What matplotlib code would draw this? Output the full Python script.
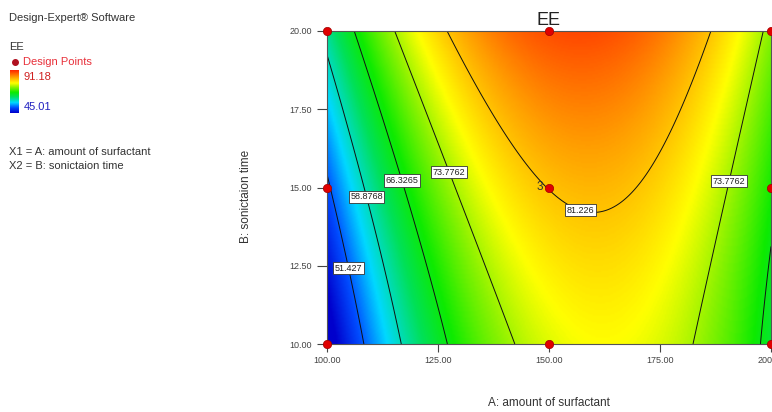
import matplotlib as mpl
from matplotlib import pyplot as plt
from matplotlib.colors import LinearSegmentedColormap
import numpy as np

mpl.use('Agg')
plt.rcParams['font.family'] = ['Liberation Sans', 'DejaVu Sans']

# quadratic model in coded units
# EE = b0 + bA*a + bB*b + bAB*a*b + bAA*a^2 + bBB*b^2
b0, bA, bB, bAB, bAA, bBB = 81.32, 8.48, 6.33, -2.49, -22.17, 1.0
ee_min, ee_max = 45.01, 91.18

levels = [51.427, 58.8768, 66.3265, 73.7762, 81.226]
level_text = ['51.427', '58.8768', '66.3265', '73.7762', '81.226']
label_pos = [(104.0, 12.4), (108.8, 14.7), (116.4, 15.2), (127.7, 15.5),
             (157.4, 14.4), (190.5, 15.2)]

pts_A = [100, 100, 100, 150, 150, 150, 200, 200, 200]
pts_B = [10, 15, 20, 10, 15, 20, 10, 15, 20]

A = np.linspace(100, 200, 301)
B = np.linspace(10, 20, 201)
AA, BB = np.meshgrid(A, B)
a = (AA - 150) / 50
b = (BB - 15) / 5
Z = b0 + bA*a + bB*b + bAB*a*b + bAA*a**2 + bBB*b**2

cmap = LinearSegmentedColormap.from_list('de', [
    (0.00, (0.0, 0.0, 0.80)),
    (0.12, (0.0, 0.30, 1.0)),
    (0.24, (0.0, 0.85, 1.0)),
    (0.38, (0.0, 0.88, 0.35)),
    (0.48, (0.05, 0.92, 0.0)),
    (0.60, (0.55, 0.95, 0.0)),
    (0.70, (1.0, 1.0, 0.0)),
    (0.84, (1.0, 0.62, 0.0)),
    (1.00, (1.0, 0.15, 0.0))])

fig = plt.figure(figsize=(7.72, 4.12), dpi=100)
ax = fig.add_axes([327/772, 1-344/412, 444/772, 313/412])

ax.imshow(Z, extent=[100, 200, 10, 20], origin='lower', aspect='auto',
          cmap=cmap, vmin=ee_min, vmax=ee_max, interpolation='bilinear')
cs = ax.contour(AA, BB, Z, levels=levels, colors='#111111', linewidths=0.7)
txts = ax.clabel(cs, fmt=dict(zip(levels, level_text)), manual=label_pos,
                 inline=False, fontsize=6.5)
for t in txts:
    t.set_rotation(0)
    t.set_color('#222222')
    t.set_bbox(dict(facecolor='white', edgecolor='#333333', lw=0.6, pad=1.2))

ax.plot(pts_A, pts_B, 'o', ms=6, color='#e00000', mec='#a00000', mew=0.5,
        clip_on=False, zorder=5)
ax.annotate('3', (150, 15), xytext=(-4, 0), textcoords='offset points',
            ha='right', va='center', fontsize=8.5, color='#333333')

ax.set_xlim(100, 200)
ax.set_ylim(10, 20)
ax.set_xticks([100, 125, 150, 175, 200])
ax.set_yticks([10, 12.5, 15, 17.5, 20])
ax.xaxis.set_major_formatter(mpl.ticker.FormatStrFormatter('%.2f'))
ax.yaxis.set_major_formatter(mpl.ticker.FormatStrFormatter('%.2f'))
ax.tick_params(axis='y', direction='out', length=7.5, pad=3.5, labelsize=6.5,
               colors='#444444')
ax.tick_params(axis='x', direction='out', length=5.5, pad=3, labelsize=6.5,
               colors='#444444')
for s in ax.spines.values():
    s.set_color('#555555')
    s.set_linewidth(0.8)

ax.set_title('EE', fontsize=13, color='#222222', pad=4)
ax.set_xlabel('A: amount of surfactant', fontsize=8.5, color='#333333')
ax.set_ylabel('B: sonictaion time', fontsize=8.5, color='#333333')
ax.xaxis.set_label_coords(0.5, -0.17)
ax.yaxis.set_label_coords(-0.168, 0.47)

# left side legend block
def px(x, y):
    return x/772, 1 - y/412

fig.text(*px(9, 18), 'Design-Expert® Software', fontsize=8, va='center',
         color='#333333')
fig.text(*px(9, 47), 'EE', fontsize=8, va='center', color='#333333')
fig.lines.append(mpl.lines.Line2D([15/772], [1-62/412], marker='o', ms=4,
                                  ls='none', color='#b01020',
                                  transform=fig.transFigure))
fig.text(*px(23, 62), 'Design Points', fontsize=8, va='center', color='#e8303a')
cax = fig.add_axes([10/772, 1-113/412, 9/772, 43/412])
cax.imshow(np.linspace(1, 0, 100).reshape(-1, 1), aspect='auto', cmap=cmap)
cax.set_axis_off()
fig.text(*px(24, 77), f'{ee_max:.2f}', fontsize=8, va='center', color='#d02020')
fig.text(*px(24, 107), f'{ee_min:.2f}', fontsize=8, va='center', color='#2020c0')
fig.text(*px(9, 152), 'X1 = A: amount of surfactant', fontsize=8, va='center',
         color='#333333')
fig.text(*px(9, 166), 'X2 = B: sonictaion time', fontsize=8, va='center',
         color='#333333')

fig.savefig('out.png', dpi=100)
